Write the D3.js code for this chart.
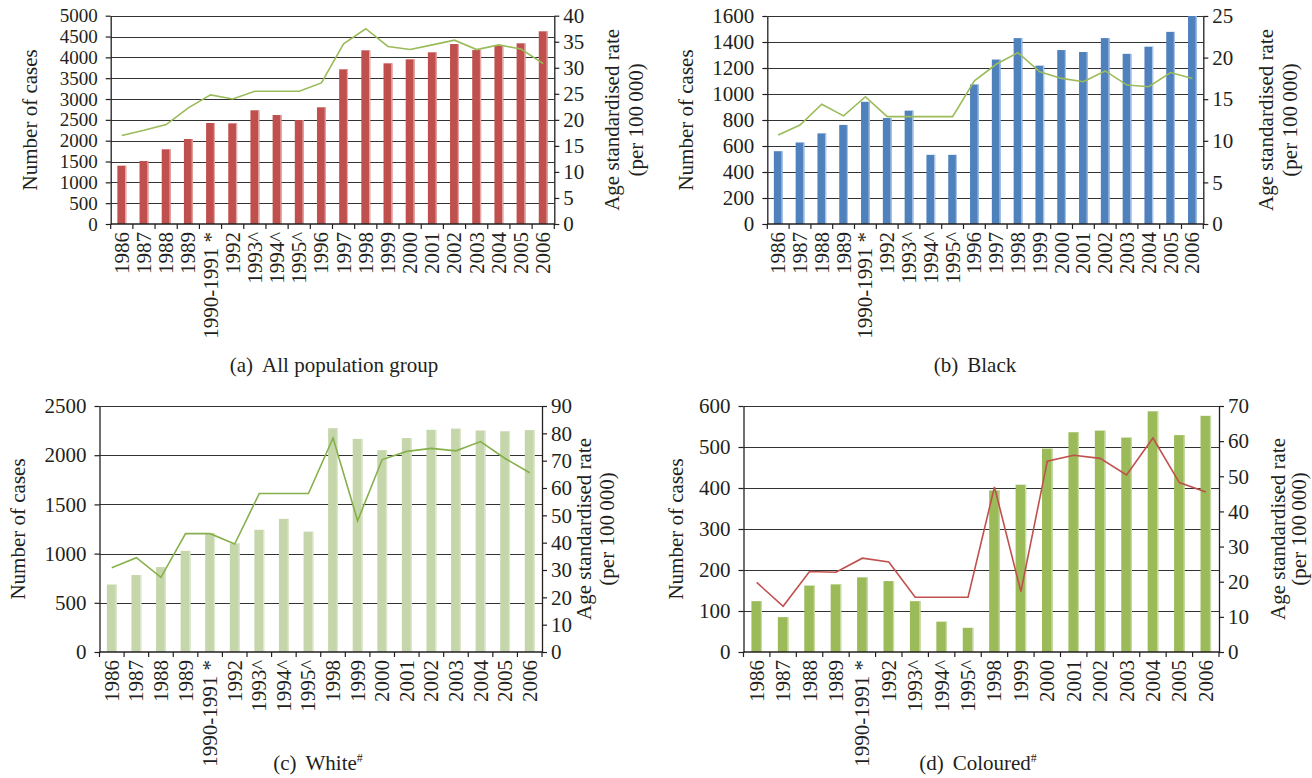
<!DOCTYPE html>
<html>
<head>
<meta charset="utf-8">
<script src="https://cdn.jsdelivr.net/npm/d3@7"></script>
<style>
  html, body { margin: 0; padding: 0; background: #fff; }
  svg { display: block; }
  text { font-family: "Liberation Serif", "DejaVu Serif", serif; fill: #231f20; }
</style>
</head>
<body>
<svg id="chart" width="1312" height="778"></svg>
<script>
// ---------- DATA ----------
const categoriesAB = ["1986","1987","1988","1989","1990-1991 *","1992","1993^","1994^","1995^","1996","1997","1998","1999","2000","2001","2002","2003","2004","2005","2006"];
const categoriesCD = ["1986","1987","1988","1989","1990-1991 *","1992","1993^","1994^","1995^","1998","1999","2000","2001","2002","2003","2004","2005","2006"];

const casesAll = [1400,1512,1793,2040,2424,2416,2729,2616,2496,2801,3713,4169,3857,3953,4121,4320,4176,4290,4337,4625];
const rateAll  = [17.0,18.0,19.1,22.3,24.8,24.0,25.5,25.5,25.5,27.1,34.6,37.5,34.1,33.5,34.4,35.3,33.5,34.4,33.6,30.8];

const casesBlack = [560,627,697,762,940,815,872,532,532,1073,1265,1430,1218,1338,1323,1430,1309,1364,1478,1600];
const rateBlack  = [10.7,11.9,14.4,13.0,15.3,12.9,12.9,12.9,12.9,17.2,19.2,20.6,18.3,17.5,17.1,18.4,16.7,16.5,18.2,17.5];

const casesWhite = [686,782,863,1028,1208,1104,1242,1353,1223,2274,2166,2051,2174,2258,2270,2251,2243,2255];
const rateWhite  = [30.8,34.5,27.3,43.3,43.3,39.5,58.0,58.0,58.0,78.3,48.0,70.4,73.4,74.5,73.6,77.0,70.8,65.6];

const casesColoured = [124,85,162,165,182,173,124,74,59,394,408,496,536,540,523,587,529,576];
const rateColoured  = [19.8,13.0,22.9,22.7,26.7,25.6,15.6,15.6,15.6,47.0,17.2,54.3,56.0,55.1,50.4,60.9,48.2,45.5];

const leftTicksA = d3.range(0, 5001, 500);
const rightTicksA = d3.range(0, 41, 5);
const leftTicksB = d3.range(0, 1601, 200);
const rightTicksB = d3.range(0, 26, 5);
const leftTicksC = d3.range(0, 2501, 500);
const rightTicksC = d3.range(0, 91, 10);
const leftTicksD = d3.range(0, 601, 100);
const rightTicksD = d3.range(0, 71, 10);

const leftTitle = "Number of cases";
const rightTitle1 = "Age standardised rate";
const rightTitle2 = "(per 100\u2009000)";

// ---------- LAYOUT / STYLE ----------
const panels = [
  { cats: categoriesAB, cases: casesAll, rate: rateAll, lt: leftTicksA, rt: rightTicksA,
    left: 110.7, right: 554.3, top: 15.7, bottom: 224, ltFs: 19,
    bar: "#C0504D", edge: "#E6A9A7", line: "#9BBB59",
    capLabel: "(a)", capText: "All population group", capSup: "", capX: 334, capY: 372,
    ltX: 30, rtX1: 612, rtX2: 636 },
  { cats: categoriesAB, cases: casesBlack, rate: rateBlack, lt: leftTicksB, rt: rightTicksB,
    left: 767.3, right: 1203.3, top: 16, bottom: 224, ltFs: 21,
    bar: "#4F81BD", edge: "#A9C4E6", line: "#9BBB59",
    capLabel: "(b)", capText: "Black", capSup: "", capX: 975, capY: 372,
    ltX: 686, rtX1: 1266, rtX2: 1290 },
  { cats: categoriesCD, cases: casesWhite, rate: rateWhite, lt: leftTicksC, rt: rightTicksC,
    left: 99.5, right: 542, top: 406, bottom: 652, ltFs: 21,
    bar: "#C5D7AA", edge: "#DDE8CC", line: "#86B04C",
    capLabel: "(c)", capText: "White", capSup: "#", capX: 318, capY: 770,
    ltX: 18, rtX1: 584, rtX2: 607 },
  { cats: categoriesCD, cases: casesColoured, rate: rateColoured, lt: leftTicksD, rt: rightTicksD,
    left: 743.5, right: 1219, top: 406, bottom: 652, ltFs: 21,
    bar: "#9BBB59", edge: "#C9DBA6", line: "#C0504D",
    capLabel: "(d)", capText: "Coloured", capSup: "#", capX: 978, capY: 770,
    ltX: 676, rtX1: 1278, rtX2: 1299 }
];

const svg = d3.select("#chart");
const tickFs = 21;
const catFs = 21;

panels.forEach(p => {
  const g = svg.append("g");
  const x = d3.scaleBand().domain(p.cats).range([p.left, p.right]).paddingInner(0.6).paddingOuter(0.3);
  const step = x.step();
  const yMax = d3.max(p.lt);
  const y = d3.scaleLinear().domain([0, yMax]).range([p.bottom, p.top]);
  const r = d3.scaleLinear().domain([0, d3.max(p.rt)]).range([p.bottom, p.top]);

  // gridlines
  g.append("g").selectAll("line").data(p.lt.filter(v => v > 0)).join("line")
    .attr("x1", p.left).attr("x2", p.right)
    .attr("y1", d => Math.round(y(d)) + 0.5).attr("y2", d => Math.round(y(d)) + 0.5)
    .attr("stroke", "#333").attr("stroke-width", 1.2);

  // bars
  const bars = g.append("g");
  bars.selectAll("rect.b").data(p.cases).join("rect").attr("class", "b")
    .attr("x", (d, i) => x(p.cats[i]))
    .attr("width", x.bandwidth())
    .attr("y", d => y(Math.min(d, yMax)))
    .attr("height", d => p.bottom - y(Math.min(d, yMax)))
    .attr("fill", p.bar);
  bars.selectAll("rect.e").data(p.cases).join("rect").attr("class", "e")
    .attr("x", (d, i) => x(p.cats[i]) + x.bandwidth() - 1.2)
    .attr("width", 1.2)
    .attr("y", d => y(Math.min(d, yMax)))
    .attr("height", d => p.bottom - y(Math.min(d, yMax)))
    .attr("fill", p.edge);

  // line
  const lineGen = d3.line()
    .x((d, i) => x(p.cats[i]) + x.bandwidth() / 2)
    .y(d => r(d));
  g.append("path").datum(p.rate).attr("d", lineGen)
    .attr("fill", "none").attr("stroke", p.line).attr("stroke-width", 1.6)
    .attr("stroke-linejoin", "miter");

  // left axis
  const la = g.append("g").attr("transform", `translate(${p.left},0)`)
    .call(d3.axisLeft(y).tickValues(p.lt).tickFormat(d3.format("d")).tickSize(5).tickPadding(8).tickSizeOuter(0));
  // right axis
  const ra = g.append("g").attr("transform", `translate(${p.right},0)`)
    .call(d3.axisRight(r).tickValues(p.rt).tickFormat(d3.format("d")).tickSize(5).tickPadding(4).tickSizeOuter(0));
  [la, ra].forEach(a => {
    a.attr("font-family", null).attr("font-size", null);
    a.selectAll("path.domain").attr("stroke", "#231f20").attr("stroke-width", 1.3);
    a.selectAll(".tick line").attr("stroke", "#231f20").attr("stroke-width", 1.2);
    a.selectAll(".tick text").attr("font-size", tickFs).attr("fill", "#231f20");
  });
  la.selectAll(".tick text").attr("font-size", p.ltFs);

  // bottom axis
  g.append("line").attr("x1", p.left).attr("x2", p.right)
    .attr("y1", p.bottom).attr("y2", p.bottom).attr("stroke", "#231f20").attr("stroke-width", 1.3);
  g.append("g").selectAll("line").data(d3.range(p.cats.length + 1)).join("line")
    .attr("x1", i => p.left + i * step).attr("x2", i => p.left + i * step)
    .attr("y1", p.bottom).attr("y2", p.bottom + 5)
    .attr("stroke", "#231f20").attr("stroke-width", 1.2);
  g.append("g").selectAll("text").data(p.cats).join("text")
    .attr("transform", d => `translate(${x(d) + x.bandwidth() / 2 + 7},${p.bottom + 8}) rotate(-90)`)
    .attr("text-anchor", "end")
    .attr("font-size", catFs)
    .text(d => d);

  // titles
  const cy = (p.top + p.bottom) / 2;
  g.append("text").attr("transform", `translate(${p.ltX + 7},${cy}) rotate(-90)`)
    .attr("text-anchor", "middle").attr("font-size", 21).text(leftTitle);
  g.append("text").attr("transform", `translate(${p.rtX1 + 7},${cy}) rotate(-90)`)
    .attr("text-anchor", "middle").attr("font-size", 21).text(rightTitle1);
  g.append("text").attr("transform", `translate(${p.rtX2 + 7},${cy}) rotate(-90)`)
    .attr("text-anchor", "middle").attr("font-size", 21).text(rightTitle2);

  // caption
  const cap = g.append("text").attr("x", p.capX).attr("y", p.capY)
    .attr("text-anchor", "middle").attr("font-size", 21);
  cap.append("tspan").text(p.capLabel);
  cap.append("tspan").attr("dx", 9).text(p.capText);
  if (p.capSup) cap.append("tspan").attr("dy", -8).attr("font-size", 12).text(p.capSup);
});
</script>
</body>
</html>
